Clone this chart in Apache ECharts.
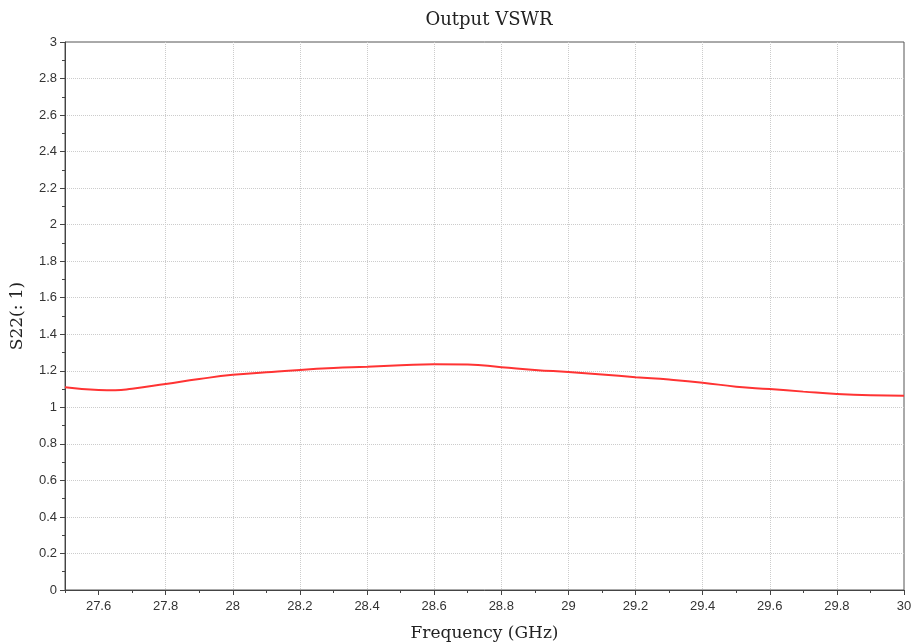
<!DOCTYPE html>
<html>
<head>
<meta charset="utf-8">
<script src="https://cdn.jsdelivr.net/npm/echarts@6/dist/echarts.min.js"></script>
<style>
html,body{margin:0;padding:0;background:#fff;}
#main{width:913px;height:644px;}
</style>
</head>
<body>
<div id="main"></div>
<script>
// frequency (GHz) and output VSWR
var freq = [27.5, 27.6, 27.65, 27.7, 27.8, 27.9, 28.0, 28.1, 28.2, 28.3, 28.4, 28.5, 28.6, 28.7, 28.8, 28.9, 29.0, 29.1, 29.2, 29.3, 29.4, 29.5, 29.6, 29.7, 29.8, 29.9, 30.0];
var vswr = [1.11, 1.095, 1.093, 1.102, 1.128, 1.155, 1.178, 1.192, 1.205, 1.215, 1.222, 1.23, 1.236, 1.234, 1.22, 1.205, 1.193, 1.18, 1.165, 1.152, 1.135, 1.113, 1.10, 1.086, 1.073, 1.066, 1.064];
// labelled x ticks
var xTicks = [27.6, 27.8, 28.0, 28.2, 28.4, 28.6, 28.8, 29.0, 29.2, 29.4, 29.6, 29.8, 30.0];

window.onload = function () {
    var myChart = echarts.init(document.getElementById('main'));
    var pts = freq.map(function (f, i) { return [f, vswr[i]]; });
    var fmt = function (v) { return +(+v).toFixed(1) + ''; };
    var option = {
        animation: false,
        title: {
            text: 'Output VSWR',
            left: 484,
            textAlign: 'center',
            top: 6,
            textStyle: {fontFamily: 'DejaVu Serif', fontWeight: 'normal', fontSize: 18, color: '#222'}
        },
        grid: {
            left: 65, right: 9, top: 42, bottom: 54,
            outerBoundsMode: 'none',
            show: true, borderColor: '#555', borderWidth: 1
        },
        xAxis: [{
            type: 'value',
            min: 27.5, max: 30, interval: 0.1,
            name: 'Frequency (GHz)',
            nameLocation: 'middle',
            nameGap: 35,
            nameTextStyle: {fontFamily: 'DejaVu Serif', fontSize: 17, color: '#222'},
            axisLine: {show: true, lineStyle: {color: '#444'}},
            axisTick: {show: true, length: 5, customValues: xTicks, lineStyle: {color: '#444'}},
            axisLabel: {
                color: '#333', fontSize: 13, fontFamily: 'Liberation Sans', margin: 10,
                customValues: xTicks,
                formatter: fmt
            },
            splitLine: {show: true, showMinLine: false, showMaxLine: false, lineStyle: {color: '#ccc', type: 'dotted'}}
        }, {
            // minor ticks every 0.1
            type: 'value',
            position: 'bottom',
            min: 27.5, max: 30, interval: 0.1,
            axisLine: {show: false},
            axisTick: {show: true, length: 3, lineStyle: {color: '#444'}},
            axisLabel: {show: false},
            splitLine: {show: false}
        }],
        yAxis: {
            type: 'value',
            min: 0, max: 3, interval: 0.2,
            name: 'S22(: 1)',
            nameLocation: 'middle',
            nameGap: 39,
            nameTextStyle: {fontFamily: 'DejaVu Serif', fontSize: 17, color: '#222'},
            axisLine: {show: true, lineStyle: {color: '#444'}},
            axisTick: {show: true, length: 5, lineStyle: {color: '#444'}},
            minorTick: {show: true, splitNumber: 2, length: 3, lineStyle: {color: '#444'}},
            axisLabel: {
                color: '#333', fontSize: 13, fontFamily: 'Liberation Sans', margin: 8,
                formatter: fmt
            },
            splitLine: {show: true, showMinLine: false, showMaxLine: false, lineStyle: {color: '#ccc', type: 'dotted'}}
        },
        series: [{
            type: 'line',
            data: pts,
            smooth: true,
            showSymbol: false,
            lineStyle: {color: '#ff3333', width: 2}
        }]
    };
    myChart.setOption(option);
};
</script>
</body>
</html>
